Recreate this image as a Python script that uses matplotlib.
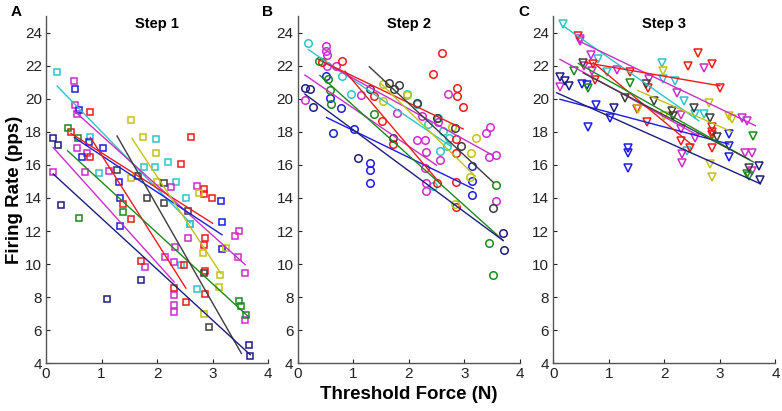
import numpy as np
import matplotlib
matplotlib.use("Agg")
import matplotlib.pyplot as plt

plt.rcParams['font.family'] = ['Liberation Sans', 'DejaVu Sans']

# ---------------- data (threshold force N, firing rate pps) ----------------
# Step 1 (squares)
s1_cyan_x = [0.2, 0.8, 0.96, 1.76, 1.99, 1.96, 2.2, 2.35, 2.52, 2.59, 2.6, 2.44, 2.72]
s1_cyan_y = [21.6, 17.7, 15.5, 15.85, 17.55, 15.9, 16.15, 14.98, 14.0, 12.45, 12.4, 9.92, 8.48]
s1_mag1_x = [0.5, 0.52, 0.55, 0.74, 1.14, 2.25, 2.72, 2.56, 3.4, 3.47, 3.46, 3.59, 3.59]
s1_mag1_y = [21.07, 19.6, 19.1, 16.7, 15.6, 14.68, 14.74, 11.59, 11.67, 12.03, 10.42, 9.44, 6.6]
s1_mag2_x = [0.12, 0.55, 0.7, 1.78, 2.15, 2.32, 2.31, 2.31, 2.31, 2.31]
s1_mag2_y = [15.55, 17.0, 15.55, 9.8, 10.4, 11.03, 10.12, 8.16, 7.51, 7.11]
s1_blue_x = [0.52, 0.6, 0.77, 0.64, 1.02, 1.32, 1.33, 1.34, 3.15, 3.17, 3.17]
s1_blue_y = [20.6, 19.3, 17.4, 16.45, 17.0, 14.94, 14.0, 12.28, 13.8, 12.53, 10.93]
s1_red1_x = [0.8, 1.39, 1.53, 1.72, 2.31, 2.49, 2.52]
s1_red1_y = [16.5, 13.65, 12.73, 10.2, 8.58, 9.92, 7.71]
s1_red2_x = [0.45, 0.8, 2.44, 2.61, 2.85, 2.85, 2.99, 2.86, 2.85, 2.86, 2.86]
s1_red2_y = [18.0, 19.2, 16.08, 17.7, 14.54, 14.24, 14.0, 11.59, 11.15, 9.6, 8.22]
s1_green_x = [0.4, 0.58, 0.6, 1.39, 3.47, 3.52, 3.6]
s1_green_y = [18.2, 17.6, 12.8, 13.13, 7.75, 7.47, 6.95]
s1_yellow_x = [1.54, 1.75, 1.99, 1.54, 2.0, 2.75, 2.83, 3.24, 3.14, 3.12, 2.85]
s1_yellow_y = [18.7, 17.67, 16.7, 15.18, 14.94, 14.3, 10.69, 10.97, 9.32, 8.62, 6.99]
s1_gray_x = [1.28, 1.66, 1.82, 2.13, 2.13, 2.55, 2.84, 2.94]
s1_gray_y = [15.66, 15.3, 13.98, 14.9, 13.7, 13.23, 9.46, 6.2]
s1_navy_x = [0.13, 0.21, 0.27, 1.09, 1.72, 3.66, 3.68]
s1_navy_y = [17.65, 17.2, 13.6, 7.87, 9.05, 5.1, 4.46]

# Step 2 (circles)
s2_cyan_x = [0.19, 0.8, 0.96, 1.96, 2.15, 2.34, 2.53, 2.61, 2.73, 2.68, 2.56, 2.44]
s2_cyan_y = [23.37, 21.37, 20.27, 20.27, 19.7, 18.5, 18.86, 18.05, 17.65, 17.15, 16.85, 14.75]
s2_mag1_x = [0.51, 0.51, 0.53, 0.53, 0.69, 1.14, 1.78, 2.23, 2.52, 2.71, 3.4, 3.46, 3.45, 3.58, 3.58]
s2_mag1_y = [23.2, 22.87, 22.67, 21.97, 21.97, 20.2, 19.12, 18.96, 18.6, 20.3, 17.9, 18.3, 16.5, 16.6, 13.84]
s2_mag2_x = [0.13, 2.15, 2.3, 2.31, 2.56, 2.29, 2.31, 2.31]
s2_mag2_y = [19.92, 17.5, 17.5, 16.8, 16.3, 15.8, 14.88, 14.4]
s2_red1_x = [0.43, 1.38, 2.43, 2.6, 2.86, 2.86, 2.98, 2.85, 2.85, 2.85, 2.85]
s2_red1_y = [22.2, 20.16, 21.5, 22.77, 20.66, 20.16, 19.5, 17.55, 16.7, 14.94, 13.43]
s2_red2_x = [0.8, 1.51, 1.71, 2.5]
s2_red2_y = [22.27, 18.66, 17.29, 14.9]
s2_green_x = [0.38, 0.54, 0.59, 0.6, 1.38, 3.58, 3.45, 3.52]
s2_green_y = [22.27, 21.17, 20.5, 19.7, 19.1, 14.78, 11.29, 9.36]
s2_gray_x = [1.3, 1.65, 1.82, 1.73, 1.72, 2.14, 2.5, 2.83, 2.94, 3.52]
s2_gray_y = [20.57, 20.96, 20.83, 20.57, 17.65, 19.76, 18.86, 18.25, 17.15, 13.4]
s2_navy_x = [0.13, 0.22, 0.28, 1.09, 3.69, 3.72]
s2_navy_y = [20.66, 20.6, 19.5, 16.39, 11.87, 10.83]
s2_blue_x = [0.51, 0.59, 0.78, 0.63, 1.02, 1.31, 1.31, 1.31, 3.14, 3.14, 3.14]
s2_blue_y = [21.37, 20.06, 19.46, 17.92, 18.16, 16.1, 15.7, 14.9, 15.95, 15.0, 14.2]
s2_yellow_x = [1.54, 1.53, 1.96, 2.78, 3.22, 3.12, 3.11, 2.83]
s2_yellow_y = [20.9, 19.86, 20.2, 18.3, 17.6, 16.7, 15.24, 13.64]

# Step 3 (down triangles)
s3_cyan_x = [0.18, 0.8, 0.96, 1.96, 1.98, 2.2, 2.35, 2.55, 2.71, 2.4]
s3_cyan_y = [24.52, 22.43, 21.6, 22.17, 21.2, 21.07, 19.86, 19.1, 19.06, 16.85]
s3_red1_x = [0.45, 0.72, 1.38, 1.71, 2.43, 2.61, 2.85, 3.0]
s3_red1_y = [23.82, 22.07, 21.63, 20.63, 21.97, 22.77, 22.07, 20.66]
s3_red2_x = [0.75, 1.5, 1.69, 2.3, 2.47, 2.85, 2.85, 2.85, 2.85]
s3_red2_y = [21.13, 19.36, 18.62, 17.45, 17.05, 18.3, 17.96, 17.8, 17.05]
s3_mag1_x = [0.48, 0.48, 0.68, 1.14, 1.73, 2.23, 2.71, 3.4, 3.49]
s3_mag1_y = [23.6, 23.5, 22.67, 21.73, 21.2, 20.36, 21.87, 18.86, 18.65]
s3_mag2_x = [0.12, 0.55, 0.7, 2.3, 2.3, 2.55, 2.31, 2.31, 3.46, 3.58, 3.58]
s3_mag2_y = [20.7, 22.0, 21.67, 19.0, 18.16, 17.65, 16.65, 16.1, 16.7, 16.7, 15.64]
s3_green_x = [0.38, 0.63, 1.38, 3.6, 3.49, 3.52]
s3_green_y = [21.67, 20.63, 20.97, 17.75, 15.45, 15.35]
s3_gray_x = [0.54, 1.29, 1.66, 1.82, 2.14, 2.16, 2.53, 2.83, 2.95, 3.53]
s3_gray_y = [22.17, 20.06, 20.87, 19.86, 19.26, 18.96, 19.46, 18.86, 17.7, 15.84]
s3_navy_x = [0.12, 0.21, 0.29, 1.1, 3.7, 3.73]
s3_navy_y = [21.3, 21.07, 20.77, 19.42, 15.95, 15.1]
s3_blue_x = [0.51, 0.6, 0.77, 1.02, 0.63, 1.34, 1.34, 1.34, 3.16, 3.16, 3.16]
s3_blue_y = [20.87, 20.83, 19.6, 18.86, 18.3, 17.05, 16.7, 15.84, 17.86, 17.15, 16.45]
s3_yellow_x = [1.52, 1.98, 2.0, 2.8, 3.16, 3.22, 2.83, 2.85]
s3_yellow_y = [19.4, 21.67, 18.96, 19.76, 18.96, 18.76, 16.05, 15.25]

# regression fits: (x from, x to, slope, intercept)
s1_fits = {'cyan': (0.2, 2.6, -3.45, 21.46), 'mag1': (0.51, 3.59, -3.02, 20.8),
           'mag2': (0.13, 2.31, -3.73, 17.53), 'blue': (0.51, 3.17, -2.21, 18.78),
           'red1': (0.8, 2.52, -5.3, 21.9), 'red2': (0.45, 3.0, -2.13, 18.86),
           'green': (0.39, 3.65, -3.08, 18.05), 'yellow': (1.55, 3.15, -5.1, 25.5),
           'gray': (1.28, 3.52, -5.87, 25.26), 'navy': (0.13, 3.68, -3.08, 15.85)}
s2_fits = {'cyan': (0.19, 2.75, -2.28, 23.41), 'mag1': (0.49, 3.52, -1.85, 23.08),
           'mag2': (0.13, 2.5, -2.3, 21.73), 'blue': (0.52, 3.16, -1.63, 19.71),
           'red1': (0.37, 2.98, -1.61, 22.97), 'red2': (0.85, 2.56, -3.96, 25.03),
           'green': (0.4, 3.7, -3.02, 22.61), 'yellow': (1.5, 3.2, -3.29, 25.84),
           'gray': (1.29, 3.52, -3.13, 25.97), 'navy': (0.13, 3.7, -2.48, 20.6)}
s3_fits = {'cyan': (0.18, 2.62, -2.35, 24.82), 'mag1': (0.45, 3.64, -1.61, 24.23),
           'mag2': (0.12, 2.55, -1.85, 22.6), 'blue': (0.12, 3.16, -0.89, 20.07),
           'red1': (0.6, 3.0, -0.58, 22.52), 'red2': (0.72, 2.5, -2.8, 24.2),
           'green': (0.45, 3.6, -1.89, 22.98), 'yellow': (1.52, 3.22, -1.47, 22.73),
           'gray': (0.54, 3.53, -1.75, 22.5), 'navy': (0.06, 3.73, -1.5, 20.45)}

panel_titles = ['Step 1', 'Step 2', 'Step 3']
panel_letters = ['A', 'B', 'C']
x_ticks = [0, 1, 2, 3, 4]
y_ticks = [4, 6, 8, 10, 12, 14, 16, 18, 20, 22, 24]

COL = {'cyan': '#2ec4c8', 'mag1': '#cc2ccc', 'mag2': '#cc2ccc', 'blue': '#1c1ce0',
       'red1': '#ee1a1a', 'red2': '#ee1a1a', 'green': '#1a8a1a', 'yellow': '#c2c214',
       'gray': '#3c3c3c', 'navy': '#1c1c80'}

step1 = {'cyan': (s1_cyan_x, s1_cyan_y), 'mag1': (s1_mag1_x, s1_mag1_y), 'mag2': (s1_mag2_x, s1_mag2_y),
         'blue': (s1_blue_x, s1_blue_y), 'red1': (s1_red1_x, s1_red1_y), 'red2': (s1_red2_x, s1_red2_y),
         'green': (s1_green_x, s1_green_y), 'yellow': (s1_yellow_x, s1_yellow_y),
         'gray': (s1_gray_x, s1_gray_y), 'navy': (s1_navy_x, s1_navy_y)}
step2 = {'cyan': (s2_cyan_x, s2_cyan_y), 'mag1': (s2_mag1_x, s2_mag1_y), 'mag2': (s2_mag2_x, s2_mag2_y),
         'blue': (s2_blue_x, s2_blue_y), 'red1': (s2_red1_x, s2_red1_y), 'red2': (s2_red2_x, s2_red2_y),
         'green': (s2_green_x, s2_green_y), 'yellow': (s2_yellow_x, s2_yellow_y),
         'gray': (s2_gray_x, s2_gray_y), 'navy': (s2_navy_x, s2_navy_y)}
step3 = {'cyan': (s3_cyan_x, s3_cyan_y), 'mag1': (s3_mag1_x, s3_mag1_y), 'mag2': (s3_mag2_x, s3_mag2_y),
         'blue': (s3_blue_x, s3_blue_y), 'red1': (s3_red1_x, s3_red1_y), 'red2': (s3_red2_x, s3_red2_y),
         'green': (s3_green_x, s3_green_y), 'yellow': (s3_yellow_x, s3_yellow_y),
         'gray': (s3_gray_x, s3_gray_y), 'navy': (s3_navy_x, s3_navy_y)}

fig = plt.figure(figsize=(7.82, 4.11), dpi=100)
lefts = [0.0588, 0.3807, 0.7076]
markers = ['s', 'o', 'v']
msizes = [4.6, 5.4, 5.6]

for i, (groups, fits, left) in enumerate(zip([step1, step2, step3], [s1_fits, s2_fits, s3_fits], lefts)):
    ax = fig.add_axes([left, 0.116, 0.284, 0.845])
    for name, (xs, ys) in groups.items():
        c = COL[name]
        ax.plot(xs, ys, linestyle='none', marker=markers[i], markersize=msizes[i],
                markerfacecolor='none', markeredgecolor=c, markeredgewidth=1.1)
    for name, (x0, x1, k, b) in fits.items():
        xx = np.array([x0, x1])
        ax.plot(xx, k * xx + b, color=COL[name], lw=1.0)
    ax.set_xlim(0, 4)
    ax.set_ylim(4, 25)
    ax.set_xticks(x_ticks)
    ax.set_yticks(y_ticks)
    ax.tick_params(direction='in', length=3, width=0.8, labelsize=11, pad=3, colors='#222222')
    for s in ['top', 'right']:
        ax.spines[s].set_visible(False)
    for s in ['left', 'bottom']:
        ax.spines[s].set_color('#555555')
        ax.spines[s].set_linewidth(1.0)
    ax.text(0.5, 0.976, panel_titles[i], transform=ax.transAxes, ha='center', va='center',
            fontsize=10.5, fontweight='bold')
    fig.text(left - 0.038, 0.97, panel_letters[i], ha='center', va='center',
             fontsize=11, fontweight='bold')
    if i == 0:
        ax.set_ylabel('Firing Rate (pps)', fontsize=13.5, fontweight='bold', labelpad=1)
    if i == 1:
        ax.set_xlabel('Threshold Force (N)', fontsize=13.5, fontweight='bold', labelpad=3)

fig.savefig('out.png', dpi=100)
